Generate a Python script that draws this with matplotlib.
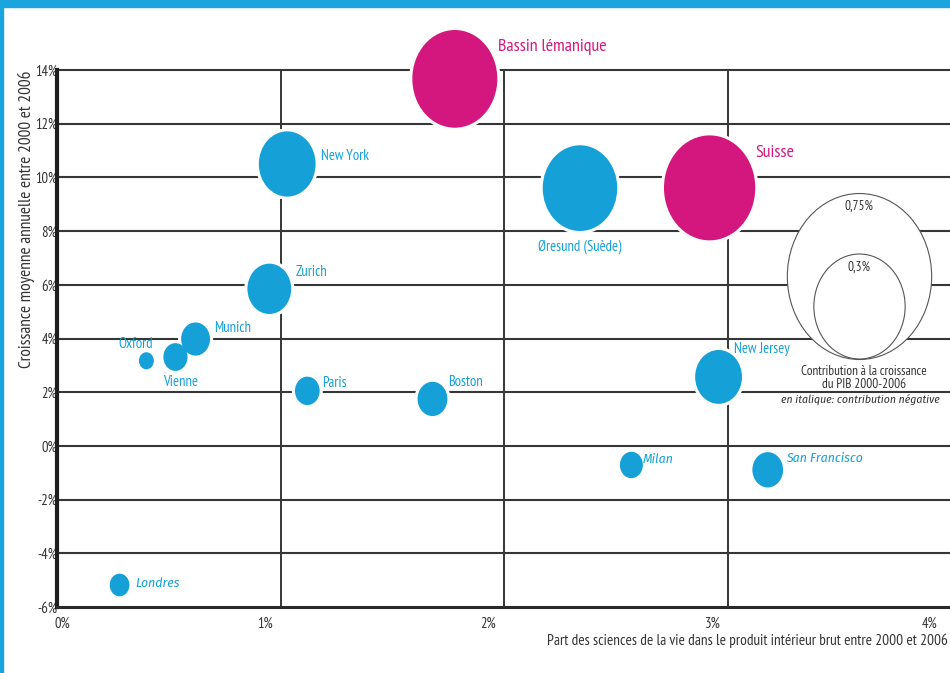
import numpy as np
import matplotlib
matplotlib.use('Agg')
import matplotlib.pyplot as plt
from matplotlib.path import Path
from matplotlib.transforms import ScaledTranslation
from matplotlib.patches import Rectangle

plt.rcParams['font.family'] = ['PT Sans Narrow', 'DejaVu Sans']
italic_family = ['Fira Sans Condensed', 'Roboto Condensed', 'DejaVu Sans']

# data: share of life sciences in GDP (%), average annual growth (%), GDP contribution (%)
cities = ['Bassin lémanique', 'Suisse', 'New York', 'Øresund (Suède)', 'Zurich', 'Munich',
          'Vienne', 'Oxford', 'Paris', 'Boston', 'New Jersey', 'Milan', 'San Francisco', 'Londres']
share = [1.78, 2.92, 1.03, 2.34, 0.95, 0.62, 0.53, 0.40, 1.12, 1.68, 2.96, 2.57, 3.18, 0.28]
growth = [13.67, 9.61, 10.5, 9.6, 5.85, 3.98, 3.31, 3.17, 2.05, 1.75, 2.57, -0.71, -0.89, -5.18]
contrib = [0.26, 0.30, 0.116, 0.20, 0.069, 0.030, 0.021, 0.008, 0.022, 0.032, 0.079, 0.019, 0.034, 0.014]
negative = [False, False, False, False, False, False, False, False, False, False, False, True, True, True]
swiss = [True, True, False, False, False, False, False, False, False, False, False, False, False, False]

legend_vals = [0.75, 0.3]
legend_labels = ['0,75%', '0,3%']

# label placement (offset in points from bubble centre, alignment)
label_pos = [(31, 23, 'left'), (33, 25, 'left'), (24, 6, 'left'), (0, -42, 'center'),
             (19, 12, 'left'), (13, 8, 'left'), (4, -18, 'center'), (-8, 12, 'center'),
             (11, 6, 'left'), (11, 12, 'left'), (11, 20, 'left'), (8, 4, 'left'),
             (13, 8, 'left'), (11, 1, 'left')]

blue = '#15a1d7'
pink = '#d4177f'
frame = '#1ba4dd'
grid = '#363636'
text_col = '#333333'

# vertically stretched circle marker
circ = Path.unit_circle()
ell = Path(circ.vertices * np.array([1 / 1.15, 1.0]), circ.codes)
K2 = 138.0 ** 2  # s (pt^2) per % of contribution

fig = plt.figure(figsize=(9.5, 6.73), dpi=100)
ax = fig.add_axes([57 / 950, 66 / 673, 894 / 950, 537 / 673])
ax.set_xlim(0, 4)
ax.set_ylim(-6, 14)

for y in range(-4, 15, 2):
    ax.axhline(y, color=grid, lw=1.5, zorder=1, clip_on=False)
for x in [1, 2, 3]:
    ax.axvline(x, color=grid, lw=1.4, zorder=1)

for s in ['top', 'right']:
    ax.spines[s].set_visible(False)
ax.spines['left'].set_linewidth(3)
ax.spines['left'].set_color('#1e1e1e')
ax.spines['bottom'].set_linewidth(2.2)
ax.spines['bottom'].set_color('#2a2a2a')

sizes = np.array(contrib) * K2
colors = [pink if w else blue for w in swiss]
ax.scatter(share, growth, s=sizes, marker=ell, facecolors='white', edgecolors='white',
           linewidths=4.5, zorder=3, clip_on=False)
ax.scatter(share, growth, s=sizes, marker=ell, c=colors, edgecolors='none', zorder=4,
           clip_on=False)

for name, x, y, w, neg, (dx, dy, ha) in zip(cities, share, growth, swiss, negative, label_pos):
    kw = dict(style='italic', family=italic_family, fontsize=9.8) if neg else \
        dict(fontsize=13 if w else 10.5)
    ax.annotate(name, (x, y), xytext=(dx, dy), textcoords='offset points', ha=ha, va='center',
                color=pink if w else blue, zorder=5, **kw)

# size legend, nested bubbles sharing their bottom edge
ax_h_pt = ax.get_position().height * fig.get_figheight() * 72
leg_x = 0.897
leg_bottom = 0.462
for v, lab in zip(legend_vals, legend_labels):
    h = np.sqrt(v * K2)
    yc = leg_bottom + h / 2 / ax_h_pt
    ax.scatter([leg_x], [yc], s=v * K2, marker=ell, facecolors='white', edgecolors='#555555',
               linewidths=0.8, transform=ax.transAxes, zorder=6, clip_on=False)
    ax.text(leg_x, yc + (h / 2 - 9.5) / ax_h_pt, lab, transform=ax.transAxes, ha='center',
            va='center', fontsize=9.5, color=text_col, zorder=7)
ax.text(leg_x + 0.006, leg_bottom - 0.012, 'Contribution à la croissance\ndu PIB 2000-2006',
        transform=ax.transAxes, ha='center', va='top', fontsize=9.5, color=text_col,
        linespacing=0.95, zorder=7)
ax.text(leg_x + 0.002, leg_bottom - 0.066, 'en italique: contribution négative',
        transform=ax.transAxes, ha='center', va='top', fontsize=8.4, color=text_col,
        style='italic', family=italic_family, zorder=7)

# ticks
ax.set_xticks([0, 1, 2, 3, 4])
ax.set_xticklabels(['0%', '1%', '2%', '3%', '4%'])
ax.set_yticks(range(-6, 15, 2))
ax.set_yticklabels([f'{v}%' for v in range(-6, 15, 2)])
ax.tick_params(length=0, labelsize=10.5, colors=text_col)
ax.tick_params(axis='x', pad=7)
ax.tick_params(axis='y', pad=0)
for lab, dx in zip(ax.get_xticklabels(), [5, -15, -16, -15, -21]):
    lab.set_transform(lab.get_transform() + ScaledTranslation(dx / 100, 0, fig.dpi_scale_trans))

ax.set_ylabel('Croissance moyenne annuelle entre 2000 et 2006', fontsize=12.5, color=text_col,
              ha='right', va='center')
ax.yaxis.set_label_coords(-0.034, 1.0)
ax.set_xlabel('Part des sciences de la vie dans le produit intérieur brut entre 2000 et 2006',
              fontsize=11, color=text_col, ha='right', va='center')
ax.xaxis.set_label_coords(0.997, -0.063)

# blue frame of the page
fig.patches.append(Rectangle((0, 1 - 7 / 673), 1, 7 / 673, transform=fig.transFigure,
                             color=frame, zorder=0))
fig.patches.append(Rectangle((0, 0), 2.5 / 950, 1, transform=fig.transFigure,
                             color=frame, zorder=0))

fig.savefig('out.png', dpi=100)
